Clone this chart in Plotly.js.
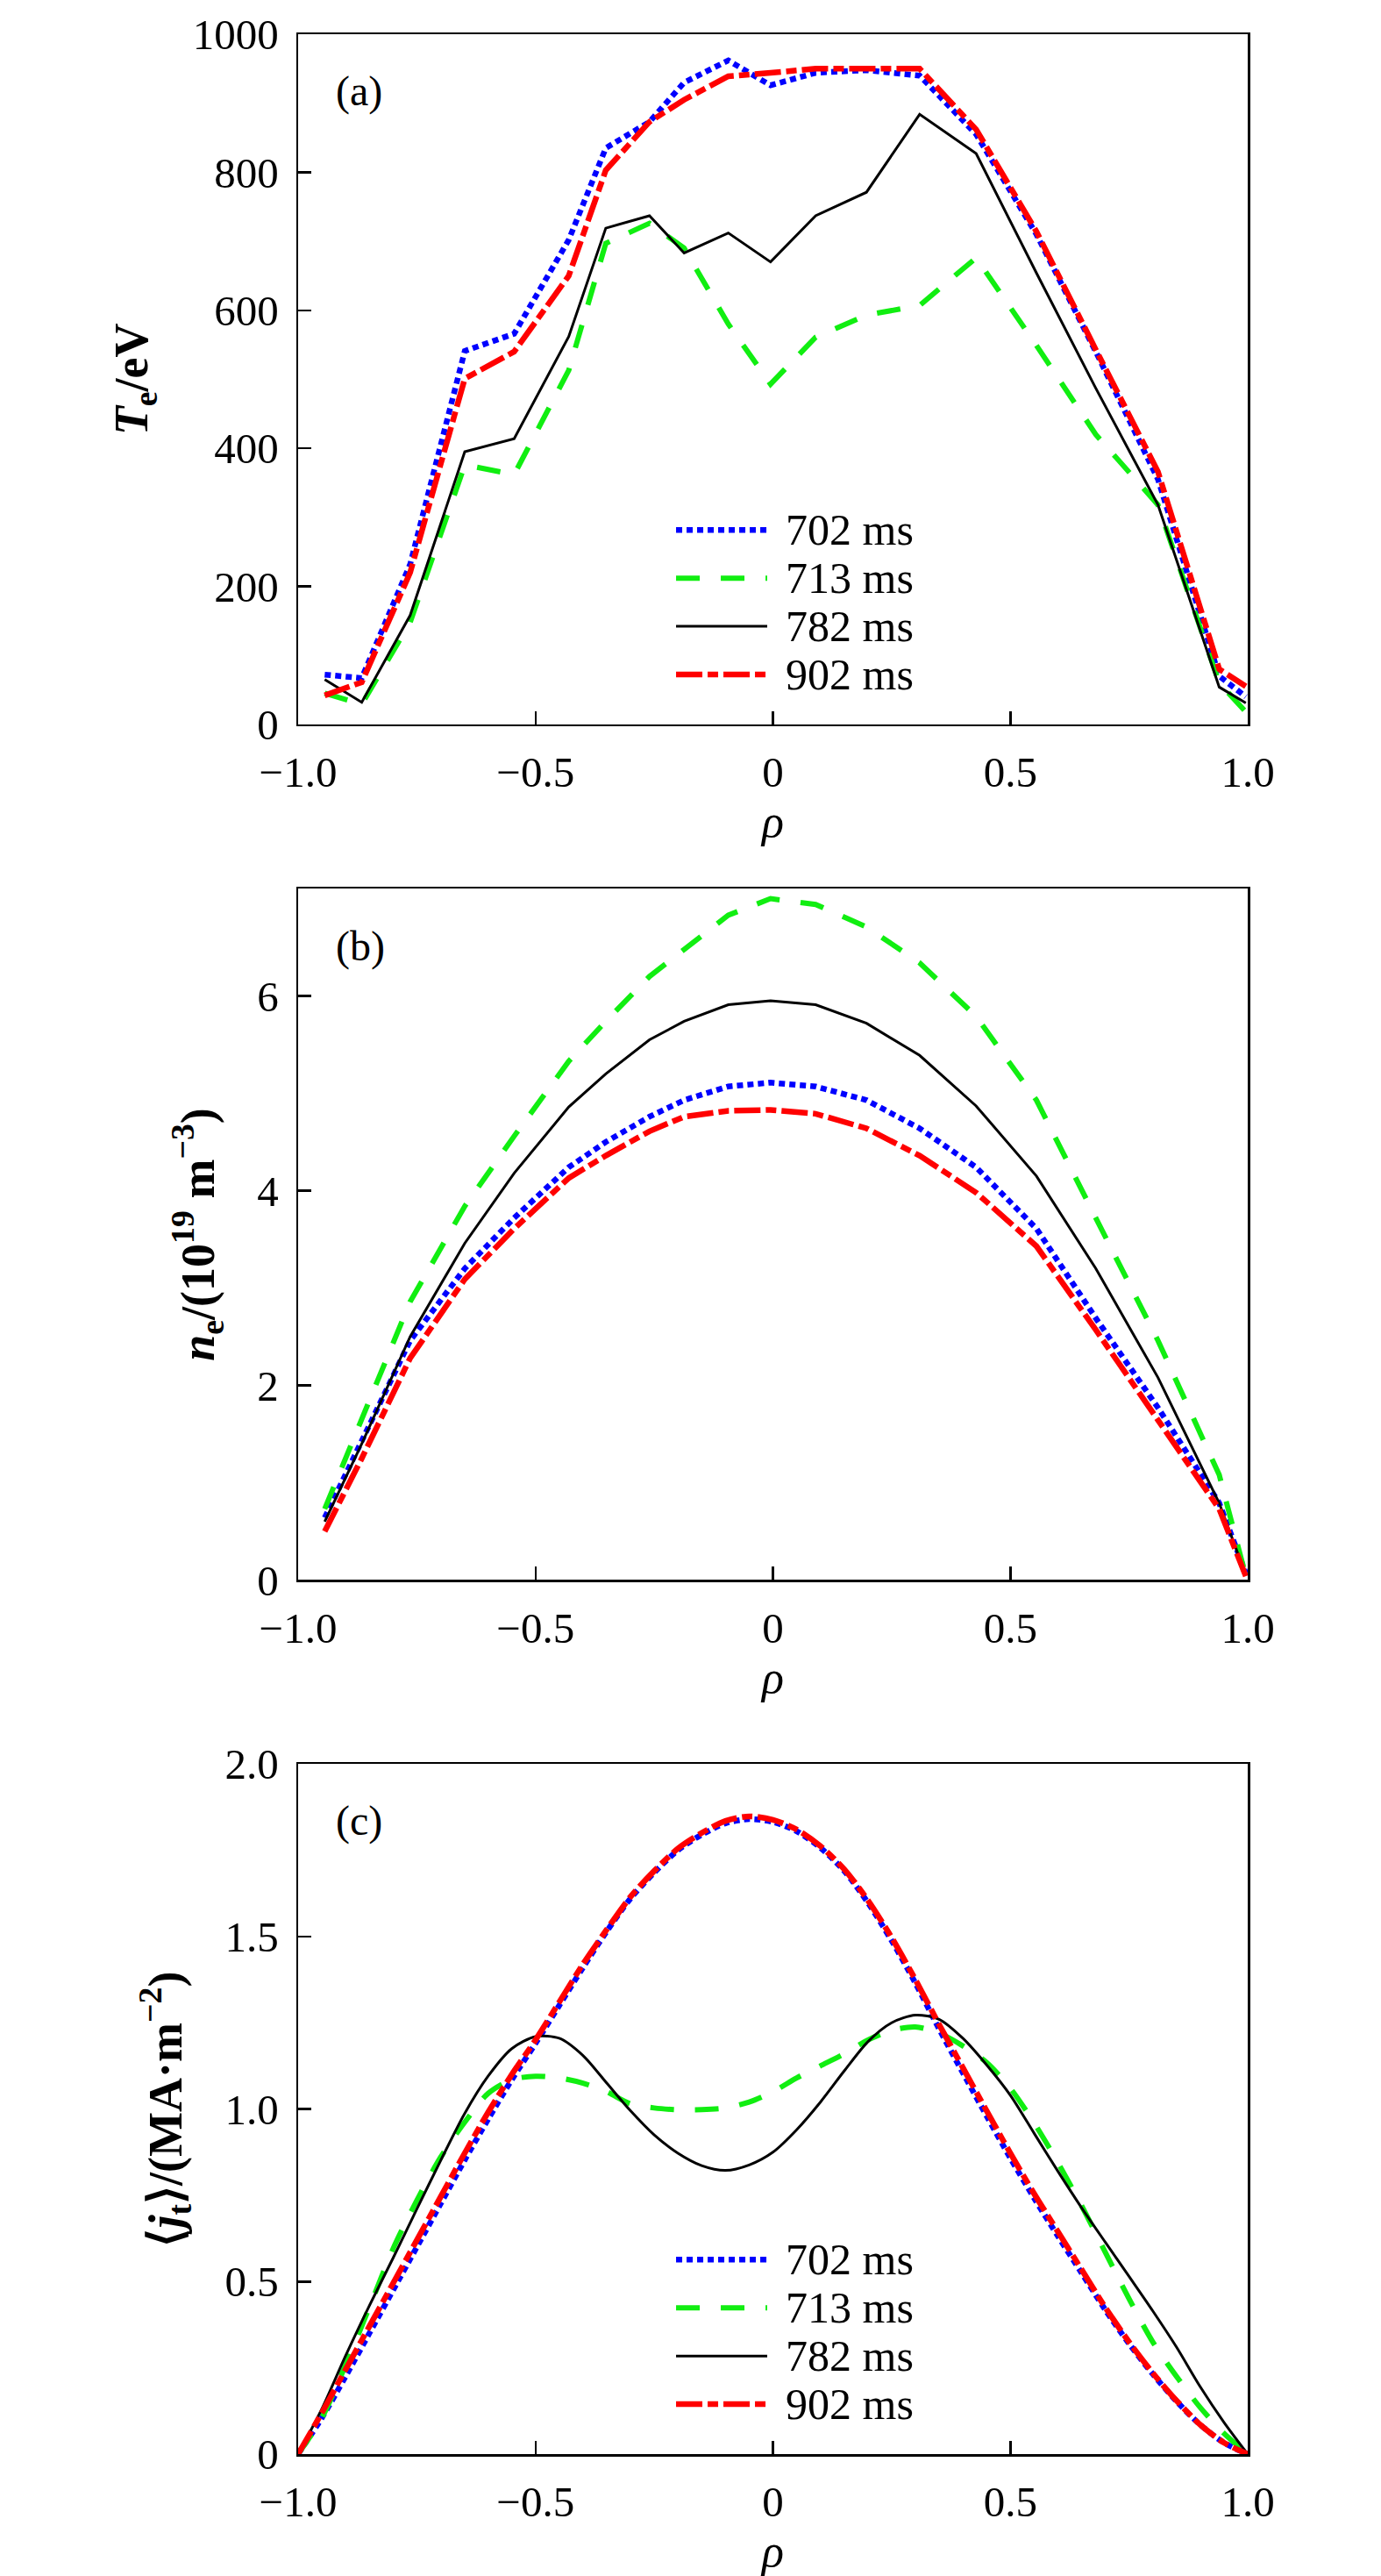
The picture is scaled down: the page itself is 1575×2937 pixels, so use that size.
<!DOCTYPE html>
<html>
<head>
<meta charset="utf-8">
<script src="https://cdn.plot.ly/plotly-3.0.1.min.js"></script>
<style>html,body{margin:0;padding:0;background:#fff;}</style>
</head>
<body>
<div id="chart" style="width:1575px;height:2937px;"></div>
<script>
// ---------- data ----------
const seriesNames = ['702 ms', '713 ms', '782 ms', '902 ms'];

// panel (a) and (b): measured channel positions
const rhoAB = [-0.944, -0.866, -0.764, -0.649, -0.545, -0.430, -0.352, -0.260, -0.187, -0.094,
               -0.005, 0.090, 0.197, 0.309, 0.428, 0.555, 0.680, 0.811, 0.940, 0.996];

// (a) Te / eV
const te702 = [72, 67, 232, 541, 566, 702, 835, 873, 930, 962, 926, 944, 948, 940, 855, 710, 540, 355, 70, 40];
const te713 = [45, 29, 148, 376, 362, 513, 697, 726, 690, 580, 493, 561, 593, 607, 676, 549, 420, 318, 60, 18];
const te782 = [65, 32, 158, 395, 414, 562, 719, 737, 683, 712, 670, 737, 771, 884, 827, 654, 487, 318, 54, 31];
const te902 = [42, 61, 220, 501, 540, 650, 803, 873, 905, 939, 944, 950, 950, 950, 862, 714, 543, 366, 80, 55];

// (b) ne / 1e19 m^-3
const ne702 = [0.64, 1.42, 2.46, 3.20, 3.72, 4.24, 4.50, 4.76, 4.93, 5.07, 5.11, 5.07, 4.93, 4.64, 4.24, 3.61, 2.69, 1.77, 0.79, 0.07];
const ne713 = [0.73, 1.65, 2.86, 3.84, 4.56, 5.33, 5.74, 6.20, 6.48, 6.83, 7.00, 6.94, 6.71, 6.34, 5.79, 4.93, 3.72, 2.46, 1.08, 0.04];
const ne782 = [0.60, 1.40, 2.50, 3.46, 4.18, 4.86, 5.20, 5.55, 5.74, 5.91, 5.95, 5.91, 5.72, 5.39, 4.87, 4.15, 3.20, 2.08, 0.79, 0.05];
const ne902 = [0.50, 1.25, 2.28, 3.09, 3.61, 4.13, 4.36, 4.61, 4.76, 4.82, 4.83, 4.79, 4.64, 4.36, 3.98, 3.43, 2.57, 1.65, 0.73, 0.04];

// (c) <jt> / MA m^-2
const rhoC = [-1.00, -0.95, -0.90, -0.85, -0.80, -0.75, -0.70, -0.65, -0.60, -0.55,
              -0.50, -0.45, -0.40, -0.35, -0.30, -0.25, -0.20, -0.15, -0.10, -0.05,
               0.00, 0.05, 0.10, 0.15, 0.20, 0.25, 0.30, 0.35, 0.40, 0.45,
               0.50, 0.55, 0.60, 0.65, 0.70, 0.75, 0.80, 0.85, 0.90, 0.95, 1.00];
const j702 = [0, 0.105, 0.225, 0.350, 0.475, 0.600, 0.725, 0.850, 0.970, 1.085,
              1.190, 1.300, 1.410, 1.515, 1.610, 1.685, 1.750, 1.795, 1.828, 1.840,
              1.832, 1.805, 1.757, 1.690, 1.598, 1.488, 1.365, 1.232, 1.105, 0.980,
              0.858, 0.742, 0.632, 0.525, 0.418, 0.320, 0.232, 0.153, 0.085, 0.033, 0];
const j713 = [0, 0.105, 0.258, 0.425, 0.595, 0.735, 0.860, 0.960, 1.045, 1.085,
              1.095, 1.090, 1.075, 1.050, 1.015, 1.003, 0.998, 0.998, 1.003, 1.020,
              1.050, 1.090, 1.125, 1.160, 1.200, 1.228, 1.238, 1.220, 1.183, 1.135,
              1.060, 0.960, 0.845, 0.720, 0.585, 0.450, 0.325, 0.225, 0.135, 0.060, 0];
const j782 = [0, 0.131, 0.285, 0.430, 0.568, 0.710, 0.850, 0.985, 1.095, 1.175,
              1.210, 1.205, 1.155, 1.075, 0.995, 0.925, 0.872, 0.836, 0.822, 0.838,
              0.875, 0.940, 1.020, 1.110, 1.195, 1.250, 1.272, 1.260, 1.205, 1.128,
              1.040, 0.930, 0.820, 0.714, 0.614, 0.515, 0.415, 0.310, 0.195, 0.092, 0];
const j902 = [0, 0.120, 0.245, 0.370, 0.495, 0.620, 0.745, 0.870, 0.990, 1.100,
              1.200, 1.310, 1.420, 1.520, 1.615, 1.690, 1.755, 1.800, 1.835, 1.848,
              1.838, 1.810, 1.762, 1.695, 1.605, 1.497, 1.375, 1.245, 1.120, 0.995,
              0.872, 0.755, 0.645, 0.535, 0.425, 0.325, 0.235, 0.155, 0.085, 0.033, 0];

const xTickVals = [-1, -0.5, 0, 0.5, 1];
const xTickText = ['\u22121.0', '\u22120.5', '0', '0.5', '1.0'];
const yTickValsA = [0, 200, 400, 600, 800, 1000];
const yTickValsB = [0, 2, 4, 6];
const yTickValsC = [0, 0.5, 1, 1.5, 2];
const yTickTextC = ['0', '0.5', '1.0', '1.5', '2.0'];

// ---------- styles ----------
const colors = ['#0000ff', '#11ee11', '#000000', '#ff0000'];
const dashes = ['7px,5px', '27px,24px', 'solid', '30px,6px,12px,6px'];
const widths = [6.5, 6, 3, 6.5];
const FONT = 'Liberation Serif, Times New Roman, serif';

const panels = [
  {x: rhoAB, ys: [te702, te713, te782, te902], xa: 'x', ya: 'y', shape: 'linear'},
  {x: rhoAB, ys: [ne702, ne713, ne782, ne902], xa: 'x2', ya: 'y2', shape: 'linear'},
  {x: rhoC, ys: [j702, j713, j782, j902], xa: 'x3', ya: 'y3', shape: 'spline'}
];

const traces = [];
panels.forEach(p => {
  [0, 1, 2, 3].forEach(i => {
    traces.push({
      type: 'scatter', mode: 'lines', name: seriesNames[i],
      x: p.x, y: p.ys[i], xaxis: p.xa, yaxis: p.ya,
      line: {color: colors[i], width: widths[i], dash: dashes[i], shape: p.shape, smoothing: 0.8},
      showlegend: false, hoverinfo: 'x+y+name'
    });
  });
});

const axisCommon = {
  showline: true, linecolor: '#000', linewidth: 2.5, mirror: true,
  ticks: 'inside', ticklen: 15, tickwidth: 2.5, tickcolor: '#000',
  showgrid: false, zeroline: false, automargin: true,
  tickfont: {family: FONT, size: 49, color: '#000'},
  ticklabelstandoff: 10
};

function xAxis(anchor) {
  return Object.assign({}, axisCommon, {
    anchor: anchor, domain: [0, 1], range: [-1, 1],
    tickmode: 'array', tickvals: xTickVals, ticktext: xTickText,
    title: {text: '<i>\u03c1</i>', font: {family: FONT, size: 52, color: '#000'}, standoff: 0}
  });
}

const layout = {
  width: 1575, height: 2937,
  margin: {l: 340, r: 152, t: 35, b: 139, pad: 0},
  paper_bgcolor: '#fff', plot_bgcolor: '#fff',
  showlegend: false,
  font: {family: FONT, color: '#000'},
  xaxis: xAxis('y'),
  xaxis2: xAxis('y2'),
  xaxis3: xAxis('y3'),
  yaxis: Object.assign({}, axisCommon, {
    anchor: 'x', domain: [0.7148, 1], range: [0, 1000],
    tickmode: 'array', tickvals: yTickValsA,
    title: {text: '<b><i>T</i><sub>e</sub>/eV</b>', font: {family: FONT, size: 54, color: '#000'}, standoff: 34}
  }),
  yaxis2: Object.assign({}, axisCommon, {
    anchor: 'x2', domain: [0.3612, 0.6468], range: [0, 7.1],
    tickmode: 'array', tickvals: yTickValsB,
    title: {text: '<b><i>n</i><sub>e</sub>/(10<sup>19</sup> m<sup>\u22123</sup>)</b>', font: {family: FONT, size: 54, color: '#000'}, standoff: 32}
  }),
  yaxis3: Object.assign({}, axisCommon, {
    anchor: 'x3', domain: [0, 0.2852], range: [0, 2],
    tickmode: 'array', tickvals: yTickValsC, ticktext: yTickTextC,
    title: {text: '<b>\u27e8<i>j</i><sub>t</sub>\u27e9/(MA\u00b7m<sup>\u22122</sup>)</b>', font: {family: FONT, size: 54, color: '#000'}, standoff: 32}
  }),
  annotations: [],
  shapes: []
};

// panel labels
const panelLabels = ['(a)', '(b)', '(c)'];
const panelRefs = [['x', 'y'], ['x2', 'y2'], ['x3', 'y3']];
panelLabels.forEach((t, k) => {
  layout.annotations.push({
    text: t, xref: panelRefs[k][0] + ' domain', yref: panelRefs[k][1] + ' domain',
    x: 0.038, y: 0.917, xanchor: 'left', yanchor: 'middle', showarrow: false,
    font: {family: FONT, size: 48, color: '#000'}
  });
});

// legends in panels (a) and (c)
const legendRowsY = [0.2817, 0.2119, 0.1421, 0.0723];
[0, 2].forEach(k => {
  seriesNames.forEach((nm, i) => {
    const xr = panelRefs[k][0] + ' domain', yr = panelRefs[k][1] + ' domain';
    layout.shapes.push({
      type: 'line', xref: xr, yref: yr,
      x0: 0.398, x1: 0.494, y0: legendRowsY[i], y1: legendRowsY[i],
      line: {color: colors[i], width: widths[i], dash: dashes[i]}
    });
    layout.annotations.push({
      text: nm, xref: xr, yref: yr, x: 0.512, y: legendRowsY[i],
      xanchor: 'left', yanchor: 'middle', showarrow: false,
      font: {family: FONT, size: 50, color: '#000'}
    });
  });
});

Plotly.newPlot('chart', traces, layout, {displayModeBar: false, staticPlot: true});
</script>
</body>
</html>
